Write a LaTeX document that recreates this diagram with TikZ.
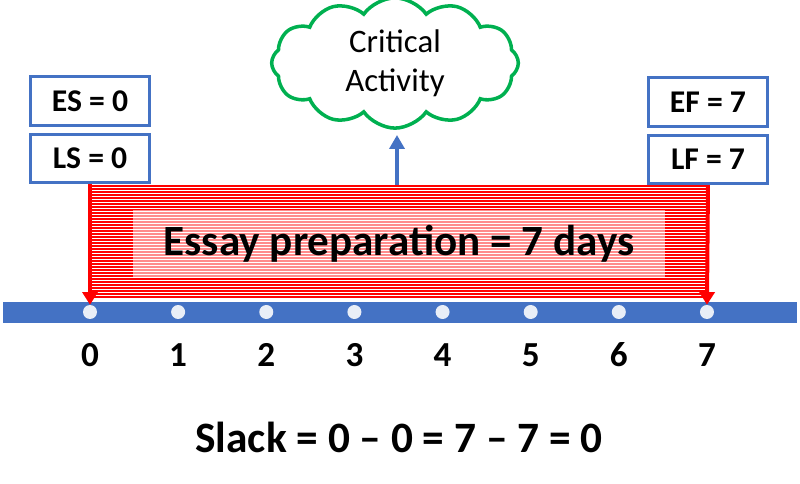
\documentclass[tikz,border=0pt]{standalone}
\usepackage{fontspec}
\setmainfont{Carlito}
\usetikzlibrary{shapes.symbols,arrows.meta,positioning}
\definecolor{barblue}{HTML}{4472C4}
\definecolor{cloudgreen}{HTML}{00B050}
\definecolor{dotgrey}{HTML}{E9EEF7}

\begin{document}
\begin{tikzpicture}[x=0.03cm, y=-0.03cm, >=Triangle,
  datebox/.style={draw=barblue, line width=2.6pt, fill=white, minimum width=3.55cm, minimum height=1.45cm, inner sep=0pt, font=\bfseries\fontsize{27}{30}\selectfont},
  daydot/.style={circle, fill=dotgrey, minimum size=0.42cm, inner sep=0pt},
  daynum/.style={font=\bfseries\fontsize{30}{32}\selectfont},
  hatchline/.style={red, line width=0.06cm},
  bigtext/.style={font=\bfseries\fontsize{36.8}{40}\selectfont}]
\useasboundingbox (0,0) rectangle (800,484);

% time axis
\fill[barblue] (3,302) rectangle (797,323);
\foreach \i in {0,...,7} {
  \node[daydot] (d\i) at ({90+88.14*\i},312) {};
  \node[daynum] (n\i) at ({90+88.14*\i},355) {\i};
}

% activity bar
\node[minimum width=18.51cm, minimum height=3.39cm, inner sep=0pt] (span) at (398.5,241.5) {};
\foreach \y in {186.5,189.5,...,297.5}
  \draw[hatchline] (90,\y) -- (707,\y);
\node[fill=white, fill opacity=0.55, minimum width=15.96cm, minimum height=2.01cm, inner sep=0pt] (core) at (399,243.5) {};
\node[bigtext] (essay) at (399,244) {Essay preparation = 7 days};

% start and finish boxes
\node[datebox] (es) at (90,101) {ES = 0};
\node[datebox, below=0.18cm of es] (ls) {LS = 0};
\node[datebox] (ef) at (708,102) {EF = 7};
\node[datebox, below=0.18cm of ef] (lf) {LF = 7};

\draw[->, red, line width=3.4pt, arrows={-Triangle[length=0.38cm, width=0.45cm]}] (ls.south) -- (d0.north);
\draw[->, red, line width=3.4pt, arrows={-Triangle[length=0.38cm, width=0.45cm]}] (lf.south) -- (d7.north);

% critical activity
\node[cloud, cloud puffs=12, cloud puff arc=110, aspect=2, draw=cloudgreen, line width=3pt, minimum width=7.4cm, minimum height=3.65cm, align=center, font=\fontsize{28}{33}\selectfont] (crit) at (395,63) {Critical\\Activity};
\coordinate (tip) at (397,135);
\draw[->, barblue, line width=3.4pt, arrows={-Triangle[length=0.42cm, width=0.45cm]}] (span.north -| tip) -- (tip);

% slack
\node[font=\bfseries\fontsize{37}{40}\selectfont] (slack) at (399,437) {Slack = 0 – 0 = 7 – 7 = 0};
\end{tikzpicture}
\end{document}
